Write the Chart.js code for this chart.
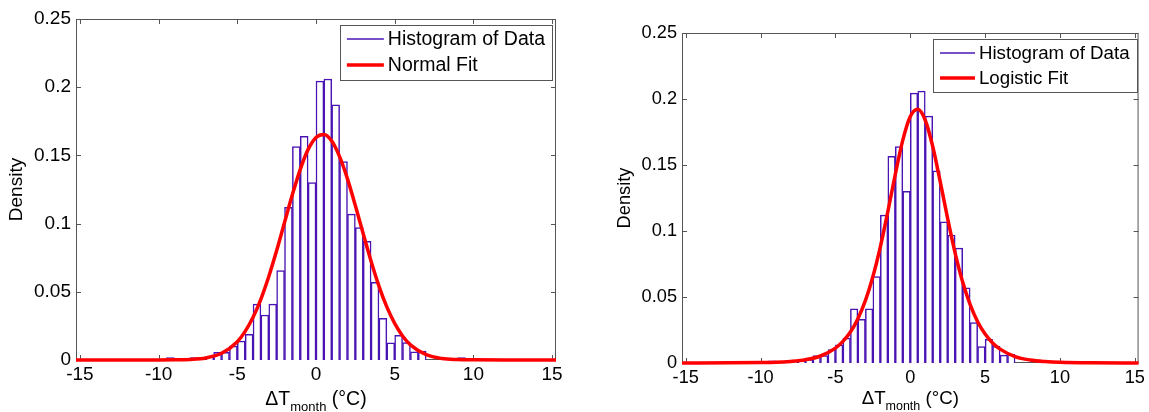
<!DOCTYPE html>
<html lang="en">
  <head>
    <meta charset="UTF-8" />
    <title>Histogram of monthly temperature anomalies with fits</title>
    <script src="https://cdn.jsdelivr.net/npm/chart.js"></script>
    <style>
      body {
        margin: 0;
        background: #fff;
      }
      canvas {
        position: absolute;
        top: 0;
      }
      #leftChart {
        left: 0;
      }
      #rightChart {
        left: 575px;
      }
    </style>
  </head>

  <body>
    <canvas id="leftChart" width="575" height="412"></canvas>
    <canvas id="rightChart" width="574" height="412"></canvas>

    <script>
      // histogram: bin centres (bins are 0.5 wide) and density
      const binCenters = [
        -9.25, -7.75, -7.25, -6.75, -6.25, -5.75, -5.25, -4.75, -4.25, -3.75, -3.25, -2.75, -2.25, -1.75, -1.25, -0.75,
        -0.25, 0.25, 0.75, 1.25, 1.75, 2.25, 2.75, 3.25, 3.75, 4.25, 4.75, 5.25, 5.75, 6.25, 6.75, 9.25,
      ];
      const density = [
        0.0017, 0.0017, 0.0017, 0.0025, 0.0057, 0.0057, 0.0102, 0.0138, 0.0189, 0.041, 0.033, 0.041, 0.0655, 0.112,
        0.1565, 0.164, 0.13, 0.2045, 0.206, 0.187, 0.1455, 0.107, 0.097, 0.087, 0.057, 0.0306, 0.0125, 0.018, 0.0127,
        0.006, 0.0066, 0.0017,
      ];

      const fitX = [
        -15.25, -12, -10, -9, -8, -7, -6, -5, -4.5, -4, -3.5, -3, -2.5, -2, -1.5, -1, -0.5, 0, 0.5, 1, 1.5, 2, 2.5, 3,
        3.5, 4, 4.5, 5, 5.5, 6, 7, 8, 9, 10, 12, 15.25,
      ];
      const normalFit = [
        0, 0, 0, 0.0001, 0.0004, 0.0015, 0.0049, 0.0134, 0.021, 0.0313, 0.0447, 0.0612, 0.0802, 0.1008, 0.1213, 0.1398,
        0.1544, 0.1632, 0.1654, 0.1605, 0.1491, 0.1328, 0.1132, 0.0925, 0.0724, 0.0542, 0.0389, 0.0268, 0.0176, 0.0111,
        0.0039, 0.0011, 0.0003, 0.0001, 0, 0,
      ];
      const logisticFit = [
        0, 0.0001, 0.0003, 0.0005, 0.0012, 0.0025, 0.0053, 0.0113, 0.0164, 0.0235, 0.0336, 0.0472, 0.0653, 0.088, 0.1147,
        0.143, 0.1688, 0.1867, 0.1922, 0.1839, 0.164, 0.1374, 0.1092, 0.0831, 0.0613, 0.0442, 0.0313, 0.0219, 0.0152,
        0.0105, 0.0049, 0.0023, 0.0011, 0.0005, 0.0001, 0,
      ];

      const xTicks = [-15, -10, -5, 0, 5, 10, 15];
      const yTicks = [0, 0.05, 0.1, 0.15, 0.2, 0.25];
      const xTitleParts = ["\u0394T", "month", " (\u00b0C)"];

      const fontFamily = '"Liberation Sans", Arial, Helvetica, sans-serif';
      const purple = "#4a14b4";
      const red = "#ff0000";

      // box + inward tick marks on all four sides (MATLAB style)
      const framePlugin = {
        id: "frame",
        beforeDatasetsDraw(chart, args, o) {
          const { ctx, chartArea: a, scales } = chart;
          ctx.save();
          ctx.strokeStyle = o.color;
          ctx.lineWidth = 1;
          ctx.strokeRect(a.left + 0.5, a.top + 0.5, a.width - 1, a.height - 1);
          ctx.beginPath();
          scales.x.ticks.forEach((t) => {
            const px = Math.round(scales.x.getPixelForValue(t.value)) + 0.5;
            ctx.moveTo(px, a.bottom);
            ctx.lineTo(px, a.bottom - o.len);
            ctx.moveTo(px, a.top);
            ctx.lineTo(px, a.top + o.len);
          });
          scales.y.ticks.forEach((t) => {
            const py = Math.round(scales.y.getPixelForValue(t.value)) + 0.5;
            ctx.moveTo(a.left, py);
            ctx.lineTo(a.left + o.len, py);
            ctx.moveTo(a.right, py);
            ctx.lineTo(a.right - o.len, py);
          });
          ctx.stroke();
          ctx.restore();
        },
      };

      // boxed legend in the upper right corner of the plot
      const boxLegendPlugin = {
        id: "boxLegend",
        afterDraw(chart, args, o) {
          const { ctx, chartArea: a } = chart;
          const items = chart.data.datasets;
          ctx.save();
          ctx.font = o.size + "px " + fontFamily;
          const textW = Math.max(...items.map((d) => ctx.measureText(d.label).width));
          const w = o.pad + o.line + o.gap + textW + o.pad;
          const left = a.right - o.right - w;
          const top = a.top + o.top;
          ctx.fillStyle = "#fff";
          ctx.fillRect(left, top, w, o.height);
          ctx.strokeStyle = "#555";
          ctx.lineWidth = 1;
          ctx.strokeRect(Math.round(left) + 0.5, Math.round(top) + 0.5, Math.round(w), Math.round(o.height));
          items.forEach((d, i) => {
            const cy = top + o.first + i * o.row;
            ctx.strokeStyle = d.borderColor;
            ctx.lineWidth = d.type === "line" ? 3.5 : 1.5;
            ctx.beginPath();
            ctx.moveTo(left + o.pad, cy);
            ctx.lineTo(left + o.pad + o.line, cy);
            ctx.stroke();
            ctx.fillStyle = "#000";
            ctx.textBaseline = "middle";
            ctx.textAlign = "left";
            ctx.fillText(d.label, left + o.pad + o.line + o.gap, cy + 1);
          });
          ctx.restore();
        },
      };

      // x axis title with a subscript
      const xTitlePlugin = {
        id: "xTitle",
        afterDraw(chart, args, o) {
          const { ctx, chartArea: a } = chart;
          const [main, sub, unit] = xTitleParts;
          const big = o.size + "px " + fontFamily;
          const small = o.sub + "px " + fontFamily;
          ctx.save();
          ctx.font = big;
          const w1 = ctx.measureText(main).width;
          const w3 = ctx.measureText(unit).width;
          ctx.font = small;
          const w2 = ctx.measureText(sub).width;
          let x = (a.left + a.right) / 2 - (w1 + w2 + w3) / 2;
          ctx.fillStyle = "#000";
          ctx.textBaseline = "alphabetic";
          ctx.textAlign = "left";
          ctx.font = big;
          ctx.fillText(main, x, o.y);
          x += w1;
          ctx.font = small;
          ctx.fillText(sub, x, o.y + o.drop);
          x += w2;
          ctx.font = big;
          ctx.fillText(unit, x, o.y);
          ctx.restore();
        },
      };

      function makeChart(id, fitLabel, fitValues, g) {
        const canvas = document.getElementById(id);
        const W = canvas.width;
        const H = canvas.height;
        return new Chart(canvas, {
          type: "bar",
          data: {
            datasets: [
              {
                label: "Histogram of Data",
                data: binCenters.map((x, i) => ({ x: x, y: density[i] })),
                backgroundColor: "#fff",
                borderColor: purple,
                borderWidth: 1.5,
                borderSkipped: "bottom",
                barPercentage: 1,
                categoryPercentage: 1,
                order: 1,
              },
              {
                type: "line",
                label: fitLabel,
                data: fitX.map((x, i) => ({ x: x, y: fitValues[i] })),
                borderColor: red,
                borderWidth: 3.5,
                pointRadius: 0,
                cubicInterpolationMode: "monotone",
                clip: false,
                order: 0,
              },
            ],
          },
          options: {
            responsive: false,
            animation: false,
            layout: { padding: { top: g.top, right: W - g.right, left: 0, bottom: 0 } },
            plugins: {
              legend: { display: false },
              tooltip: { enabled: false },
              frame: { color: "#555", len: 5 },
              boxLegend: g.legend,
              xTitle: g.xTitle,
            },
            scales: {
              x: {
                type: "linear",
                min: -15.25,
                max: 15.25,
                offset: false,
                grid: { display: false, drawTicks: false },
                border: { display: false },
                afterBuildTicks: (s) => {
                  s.ticks = xTicks.map((v) => ({ value: v }));
                },
                afterFit: (s) => {
                  s.height = H - g.bottom;
                },
                ticks: {
                  padding: g.xPad,
                  color: "#000",
                  maxRotation: 0,
                  autoSkip: false,
                  font: { family: fontFamily, size: g.tick },
                  callback: (v) => String(v),
                },
              },
              y: {
                min: 0,
                max: 0.25,
                grid: { display: false, drawTicks: false },
                border: { display: false },
                afterBuildTicks: (s) => {
                  s.ticks = yTicks.map((v) => ({ value: v }));
                },
                afterFit: (s) => {
                  s.width = g.left;
                },
                ticks: {
                  padding: 5,
                  color: "#000",
                  font: { family: fontFamily, size: g.tick },
                  callback: (v) => String(+v.toFixed(2)),
                },
                title: {
                  display: true,
                  text: "Density",
                  color: "#000",
                  font: { family: fontFamily, size: g.title },
                  padding: { top: g.yTitleX - (g.title * 1.2) / 2, bottom: 0 },
                },
              },
            },
          },
          plugins: [framePlugin, boxLegendPlugin, xTitlePlugin],
        });
      }

      makeChart("leftChart", "Normal Fit", normalFit, {
        left: 76,
        right: 556,
        top: 19,
        bottom: 360,
        tick: 19,
        xPad: 3.5,
        title: 19,
        yTitleX: 17,
        legend: { size: 19.5, pad: 7, line: 37, gap: 4, row: 26, first: 14, height: 55, top: 6, right: 4 },
        xTitle: { size: 19.5, sub: 13, drop: 6, y: 405 },
      });

      makeChart("rightChart", "Logistic Fit", logisticFit, {
        left: 107,
        right: 566,
        top: 33,
        bottom: 363,
        tick: 18.2,
        xPad: 4,
        title: 18.3,
        yTitleX: 50,
        legend: { size: 18.7, pad: 7, line: 35, gap: 4, row: 25, first: 14, height: 53, top: 6, right: 2 },
        xTitle: { size: 18.7, sub: 12.5, drop: 6, y: 404 },
      });
    </script>
  </body>
</html>
